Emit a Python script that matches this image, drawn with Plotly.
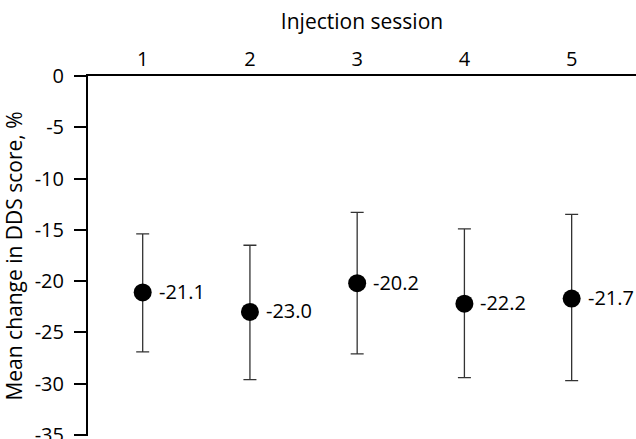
import plotly.graph_objects as go

sessions = [1, 2, 3, 4, 5]
mean_change = [-21.1, -23.0, -20.2, -22.2, -21.7]
upper_bound = [-15.4, -16.5, -13.3, -14.9, -13.5]
lower_bound = [-26.9, -29.6, -27.1, -29.4, -29.7]
y_ticks = [0, -5, -10, -15, -20, -25, -30, -35]
labels = [f"{v:.1f}" for v in mean_change]

err_plus = [u - m for u, m in zip(upper_bound, mean_change)]
err_minus = [m - l for m, l in zip(mean_change, lower_bound)]

FONT = "Open Sans"
FS = 20

fig = go.Figure()
fig.add_trace(go.Scatter(
    x=sessions, y=mean_change,
    mode="markers",
    marker=dict(color="black", size=18),
    error_y=dict(type="data", symmetric=False, array=err_plus, arrayminus=err_minus,
                 color="#333333", thickness=1.3, width=6.5),
    cliponaxis=False,
    showlegend=False,
))

for x, y, t in zip(sessions, mean_change, labels):
    fig.add_annotation(x=x, y=y, text=t, showarrow=False, xanchor="left", yanchor="middle",
                       xshift=14, yshift=1, font=dict(family=FONT, size=FS, color="black"))

fig.update_layout(
    width=636, height=439,
    margin=dict(l=88, r=0, t=76, b=3, autoexpand=False),
    paper_bgcolor="white", plot_bgcolor="white",
    font=dict(family=FONT, size=FS, color="black"),
    xaxis=dict(
        side="top", range=[0.49, 5.6], automargin=False,
        tickmode="array", tickvals=sessions, ticktext=[str(s) for s in sessions],
        showline=True, linecolor="black", linewidth=2,
        ticks="", showgrid=False, zeroline=False,
        title=dict(text="Injection session", font=dict(family=FONT, size=21), standoff=10),
        tickfont=dict(family=FONT, size=FS),
    ),
    yaxis=dict(
        range=[-35.1, 0], automargin=False,
        tickmode="array", tickvals=y_ticks, ticktext=[str(t) for t in y_ticks],
        showline=True, linecolor="black", linewidth=2,
        ticks="outside", ticklen=12, tickwidth=1.5, tickcolor="black",
        ticklabelstandoff=6, ticklabeloverflow="allow",
        showgrid=False, zeroline=False,
        title=dict(text="Mean change in DDS score, %", font=dict(family=FONT, size=21), standoff=6),
        tickfont=dict(family=FONT, size=FS),
    ),
)

fig.write_html("out.html", config={"displayModeBar": False},
               post_script="document.body.style.margin='0';")
